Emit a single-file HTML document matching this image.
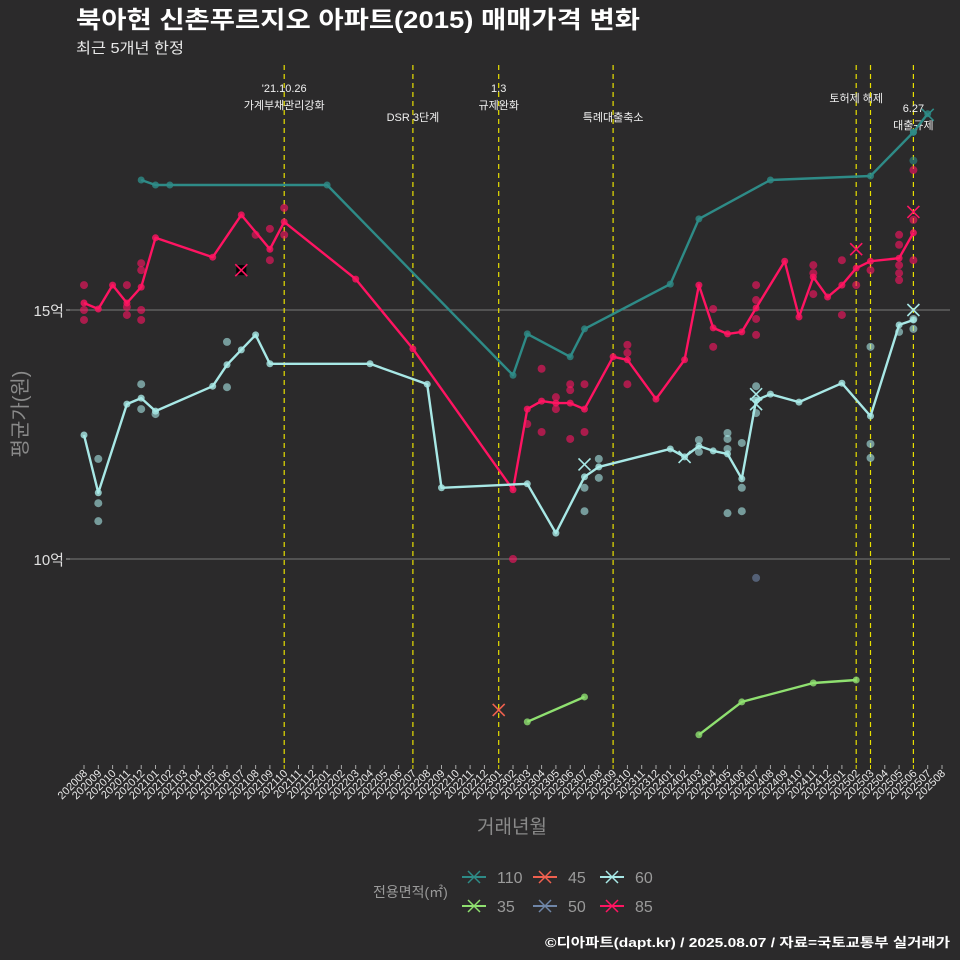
<!DOCTYPE html>
<html><head><meta charset="utf-8">
<style>
html,body{margin:0;padding:0;background:#2b2a2b;}
svg{display:block;font-family:"Liberation Sans","Noto Sans CJK KR",sans-serif;}
</style></head>
<body>
<svg id="chart" width="960" height="960" viewBox="0 0 960 960" xmlns="http://www.w3.org/2000/svg">
<rect width="960" height="960" fill="#2b2a2b"/>
<text x="76" y="28" fill="#ffffff" font-size="24" font-weight="bold" textLength="564" lengthAdjust="spacingAndGlyphs">북아현 신촌푸르지오 아파트(2015) 매매가격 변화</text>
<text x="76" y="53" fill="#e8e8e8" font-size="15" textLength="108" lengthAdjust="spacingAndGlyphs">최근 5개년 한정</text>
<text transform="translate(27,414) rotate(-90)" text-anchor="middle" fill="#8a8a8a" font-size="20">평균가(원)</text>
<text x="512" y="833" text-anchor="middle" fill="#8a8a8a" font-size="19">거래년월</text>
<text x="950" y="947" text-anchor="end" fill="#ffffff" font-size="13" font-weight="bold" textLength="405" lengthAdjust="spacingAndGlyphs">©디아파트(dapt.kr) / 2025.08.07 / 자료=국토교통부 실거래가</text>
<g id="grid"></g><g id="events"></g><g id="dots"></g><g id="lines"></g><g id="xticks"></g><g id="legend"></g>
</svg>
<script>
// ---- data ----
const months = [];
for (let y = 2020, m = 8; !(y === 2025 && m === 9); ) { months.push(String(y) + String(m).padStart(2,'0')); m++; if (m > 12) { m = 1; y++; } }
const yTicks = [10, 15];
const yTickLabels = ['10억', '15억'];
const seriesNames = ['110', '45', '60', '35', '50', '85'];
const seriesColors = {'110':'#2e8b87','45':'#f0604f','60':'#a8e8e6','35':'#8fe070','50':'#6f86a8','85':'#ff1462'};
const line110M = [4,5,6,17,30,31,34,35,41,43,48,55,58,59];
const line110V = [17.61,17.51,17.51,17.51,13.69,14.52,14.06,14.62,15.52,16.83,17.61,17.69,18.57,18.94];
const line85M = [0,1,2,3,4,5,9,11,13,14,19,23,30,31,32,33,34,35,37,38,40,42,43,44,45,46,47,49,50,51,52,53,54,55,57,58];
const line85V = [15.14,15.02,15.50,15.14,15.46,16.45,16.06,16.91,16.22,16.77,15.62,14.22,11.39,13.01,13.17,13.13,13.13,13.01,14.06,14.00,13.21,14.00,15.50,14.64,14.52,14.56,15.04,15.98,14.86,15.66,15.26,15.50,15.84,15.98,16.04,16.55];
const line60M = [0,1,3,4,5,9,10,11,12,13,20,24,25,31,33,35,36,41,42,43,44,45,46,47,48,50,53,55,57,58];
const line60V = [12.49,11.33,13.11,13.23,12.97,13.47,13.90,14.20,14.50,13.92,13.92,13.51,11.43,11.51,10.52,11.65,11.85,12.21,12.05,12.27,12.17,12.11,11.61,13.19,13.31,13.15,13.53,12.87,14.70,14.80];
const line35M = [31,35,43,46,51,54];
const line35V = [6.73,7.23,6.47,7.13,7.51,7.57];
const seg35 = [[0,2],[2,6]];
const dots85M = [0,0,0,3,3,3,4,4,4,4,12,13,13,14,14,30,31,32,32,33,33,34,34,34,35,35,38,38,38,44,44,47,47,47,47,51,51,51,53,53,54,55,57,57,57,57,57,58,58,58];
const dots85V = [15.50,15.0,14.80,15.50,15.06,14.90,15.94,15.80,15.0,14.80,16.51,16.63,16.0,17.05,16.51,10.0,12.71,13.82,12.55,13.25,13.01,13.51,13.39,12.41,13.51,12.55,14.30,14.14,13.51,15.02,14.26,15.50,15.20,14.82,14.50,15.90,15.74,15.32,16.0,14.90,15.50,15.80,16.51,16.31,15.90,15.74,15.60,17.81,16.81,16.0];
const dots60M = [10,10,4,4,5,1,1,1,35,35,36,36,43,43,45,45,45,46,46,45,46,47,47,55,55,55,57,58,58];
const dots60V = [14.36,13.45,13.51,13.01,12.91,12.01,11.12,10.76,11.43,10.96,12.01,11.63,12.39,12.15,12.53,12.41,12.21,12.33,11.43,10.92,10.96,13.47,12.93,14.26,12.31,12.03,14.56,14.82,14.62];
const dots110M = [58];
const dots110V = [18.0];
const dots50M = [47];
const dots50V = [9.62];
const crossSeries = ['85','85','85','60','60','60','60','60','45','110'];
const crossM = [11,54,58,35,42,47,47,58,29,59];
const crossV = [15.80,16.22,16.97,11.90,12.05,13.31,13.11,15.00,6.97,18.92];
const eventM = [14,23,29,37,54,55,58];
const eventLabels = [["'21.10.26","가계부채관리강화"],["","DSR 3단계"],["1.3","규제완화"],["","특례대출축소"],["토허제 해제",""],["",""],["6.27","대출규제"]];
// ---- scales ----
const X0 = 84, XSTEP = 14.3;
const xs = m => X0 + m * XSTEP;
const ys = v => 310 - (v - 15) * 49.8;
const NS = 'http://www.w3.org/2000/svg';
function mk(tag, attrs, parent) { const e = document.createElementNS(NS, tag); for (const k in attrs) e.setAttribute(k, attrs[k]); parent.appendChild(e); return e; }
const grid = document.getElementById('grid');
yTicks.forEach((t, i) => {
  const l = mk('line', {x1:70, x2:950, y1:ys(t), y2:ys(t), stroke:'#6a6a6a', 'stroke-width':1.2}, grid);
  
  
  const tx = mk('text', {x:64, y:ys(t)+6, 'text-anchor':'end', fill:'#e0e0e0', 'font-size':15}, grid);
  tx.textContent = yTickLabels[i];
  
  
  const tk = mk('line', {x1:66, x2:70, y1:ys(t), y2:ys(t), stroke:'#aaa'}, grid);
  
  
});
const ev = document.getElementById('events');
eventM.forEach((m, i) => {
  const x = xs(m);
  const l = mk('line', {x1:x, x2:x, y1:65, y2:767, stroke:'#e8e000', 'stroke-width':1.2, 'stroke-dasharray':'5,4'}, ev);
  
  
  const lab = eventLabels[i];
  const pos = {14:[92,109],23:[null,121],29:[92,109],37:[null,121],54:[102,null],58:[112,129]}[m];
  if (!pos) return;
  [0,1].forEach(j => {
    if (!lab[j] || pos[j] == null) return;
    const t = mk('text', {x:x, y:pos[j], 'text-anchor':'middle', fill:'#f0f0f0', 'font-size':11}, ev);
    t.textContent = lab[j];
    
    
  });
});
const dg = document.getElementById('dots');
function dots(M, V, s) {
  M.forEach((m, i) => {
    const c = mk('circle', {cx:xs(m), cy:ys(V[i]), r:4, fill:seriesColors[s], opacity:0.6}, dg);
    
    
  });
}
dots(dots85M, dots85V, '85'); dots(dots60M, dots60V, '60'); dots(dots110M, dots110V, '110'); dots(dots50M, dots50V, '50');
const lg = document.getElementById('lines');
function line(M, V, s, from, to) {
  const pts = [];
  for (let i = from; i < to; i++) pts.push(xs(M[i]).toFixed(1) + ',' + ys(V[i]).toFixed(1));
  const p = mk('polyline', {points:pts.join(' '), fill:'none', stroke:seriesColors[s], 'stroke-width':2.4, 'stroke-linejoin':'round'}, lg);
  
  
  for (let i = from; i < to; i++) {
    const c = mk('circle', {cx:xs(M[i]), cy:ys(V[i]), r:3.5, fill:seriesColors[s], opacity:0.8}, lg);
    
    
  }
}
line(line110M, line110V, '110', 0, line110M.length - 1);
line(line110M, line110V, '110', line110M.length - 2, line110M.length);
line(line85M, line85V, '85', 0, line85M.length);
line(line60M, line60V, '60', 0, line60M.length);
seg35.forEach(sg => line(line35M, line35V, '35', sg[0], sg[1]));
crossM.forEach((m, i) => {
  const x = xs(m), y = ys(crossV[i]), s = crossSeries[i];
  const g = mk('g', {}, lg);
  
  
  if (m === 11) mk('rect', {x:x-5, y:y-5, width:10, height:10, fill:'#000'}, g);
  mk('path', {d:`M${x-6},${y-6}L${x+6},${y+6}M${x+6},${y-6}L${x-6},${y+6}`, stroke:seriesColors[s], 'stroke-width':1.6}, g);
});
const xt = document.getElementById('xticks');
months.forEach((lab, m) => {
  const x = xs(m);
  const tk = mk('line', {x1:x, x2:x, y1:765, y2:769, stroke:eventM.includes(m) ? '#e8e000' : '#aaa'}, xt);
  
  
  const t = mk('text', {transform:`translate(${x+4},${774}) rotate(-45)`, 'text-anchor':'end', fill:'#e8e8e8', 'font-size':11}, xt);
  t.textContent = lab;
  
  
});
const lgd = document.getElementById('legend');
const lt = mk('text', {x:373, y:897, fill:'#9a9a9a', 'font-size':14}, lgd);
lt.textContent = '전용면적(㎡)';


const legX = [462, 533, 600], legY = [877, 906];
seriesNames.forEach((s, i) => {
  const x = legX[i % 3], y = legY[Math.floor(i / 3)];
  const g = mk('g', {}, lgd);
  
  
  mk('line', {x1:x, x2:x+24, y1:y, y2:y, stroke:seriesColors[s], 'stroke-width':2}, g);
  mk('path', {d:`M${x+6},${y-6}L${x+18},${y+6}M${x+18},${y-6}L${x+6},${y+6}`, stroke:seriesColors[s], 'stroke-width':1.5}, g);
  const t = mk('text', {x:x+35, y:y+6, fill:'#9a9a9a', 'font-size':16}, g);
  t.textContent = s;
});
</script>
</body></html>
